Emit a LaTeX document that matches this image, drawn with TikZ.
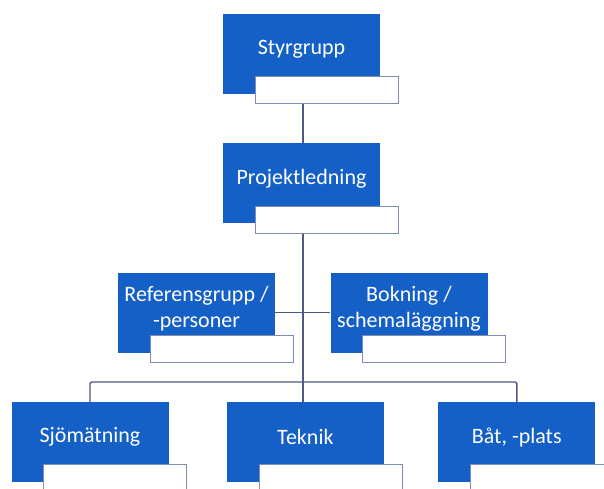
\documentclass[tikz,border=0pt]{standalone}
\usepackage{fontspec}
\setmainfont{Carlito}
\usetikzlibrary{positioning}
\definecolor{orgblue}{RGB}{20,96,198}
\definecolor{tagline}{RGB}{128,140,176}
\definecolor{linkcol}{RGB}{78,88,128}
\tikzset{
    % blue unit boxes
    unit/.style={
           rectangle,
           fill=orgblue,
           minimum width=157pt,
           minimum height=80pt,
           inner sep=0pt},
    unittext/.style={
           text=white,
           align=center,
           font=\fontsize{22}{26}\selectfont},
    % white name tags under each unit
    tag/.style={
           rectangle,
           draw=tagline,
           fill=white,
           line width=1pt,
           minimum width=143pt,
           minimum height=27pt,
           inner sep=0pt,
           anchor=north west},
    % connector style
    link/.style={
           draw=linkcol,
           line width=1.4pt}
}

\begin{document}
\begin{tikzpicture}[x=1pt,y=-1pt]
  \useasboundingbox (0,0) rectangle (604,488);
  % top
  \node[unit] (sty) at (301.5,54) {};
  \node[unittext] (sty-t) at ([yshift=5pt]sty.center) {Styrgrupp};
  \node[tag] (sty-w) at ([xshift=32pt,yshift=18pt]sty.south west) {};
  \node[unit, below=49pt of sty] (proj) {};
  \node[unittext] (proj-t) at ([yshift=5pt]proj.center) {Projektledning};
  \node[tag] (proj-w) at ([xshift=32pt,yshift=18pt]proj.south west) {};
  % middle
  \node[unit] (ref) at (196.5,312.5) {};
  \node[unittext] (ref-t) at ([yshift=4pt]ref.center) {Referensgrupp /\\-personer};
  \node[tag] (ref-w) at ([xshift=32pt,yshift=18pt]ref.south west) {};
  \node[unit] (bok) at (409,312.5) {};
  \node[unittext] (bok-t) at ([yshift=4pt]bok.center) {Bokning /\\schemaläggning};
  \node[tag] (bok-w) at ([xshift=32pt,yshift=18pt]bok.south west) {};
  % bottom row
  \node[unit] (sjo) at (90,442) {};
  \node[unittext] (sjo-t) at ([yshift=5pt]sjo.center) {Sjömätning};
  \node[tag] (sjo-w) at ([xshift=32pt,yshift=18pt]sjo.south west) {};
  \node[unit, right=58pt of sjo] (tek) {};
  \node[unittext] (tek-t) at ([yshift=5pt]tek.center) {Teknik};
  \node[tag] (tek-w) at ([xshift=32pt,yshift=18pt]tek.south west) {};
  \node[unit, right=54pt of tek] (bat) {};
  \node[unittext] (bat-t) at ([yshift=5pt]bat.center) {Båt, -plats};
  \node[tag] (bat-w) at ([xshift=32pt,yshift=18pt]bat.south west) {};
  \coordinate (fork) at (303,382);
  % connectors
  \draw[link] (sty-w.south -| fork) -- (proj.north -| fork);
  \draw[link] (proj-w.south -| fork) -- (fork);
  \draw[link] (ref.east) -- (bok.west);
  \draw[link] (fork) -- (tek.north -| fork);
  \draw[link, rounded corners=2pt] (sjo.north) |- (fork) -| (bat.north);
\end{tikzpicture}
\end{document}
